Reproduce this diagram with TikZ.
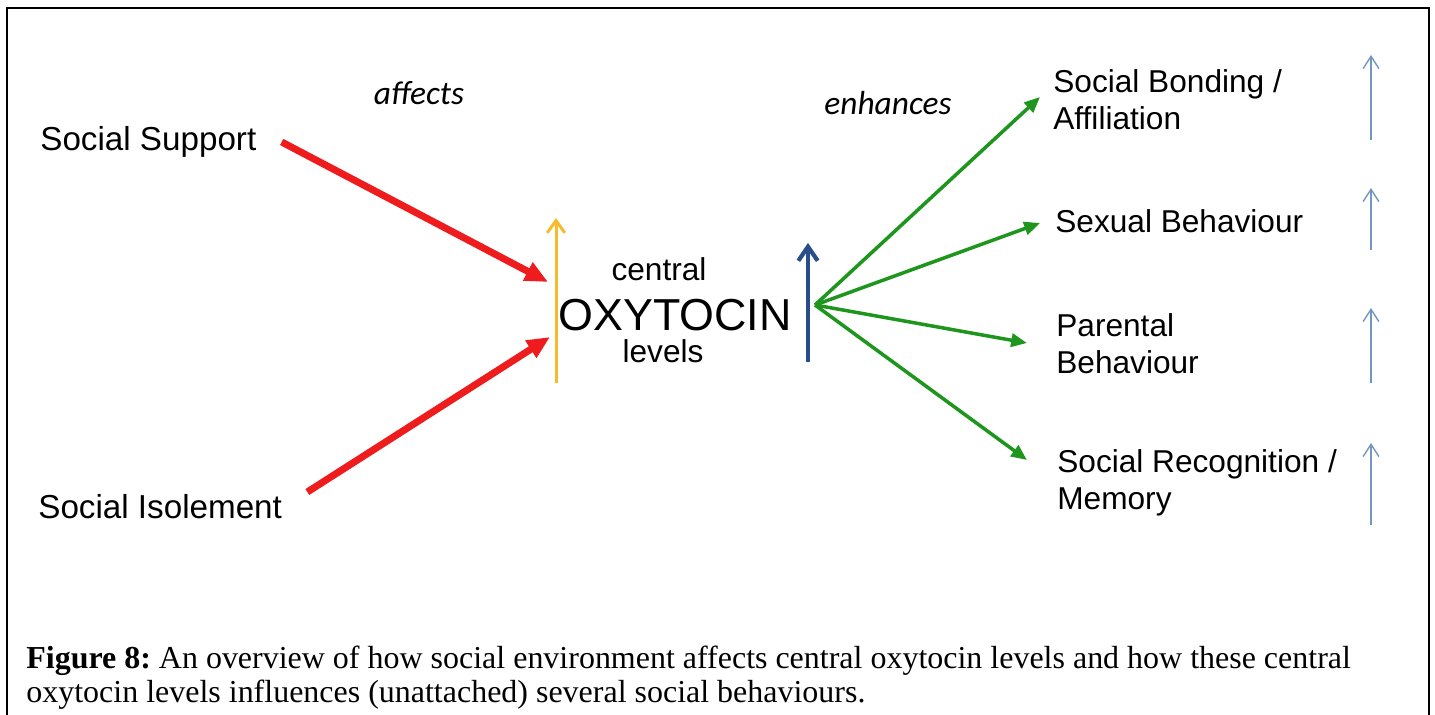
\documentclass[tikz,border=0pt]{standalone}
\usepackage{fontspec}
\setmainfont{Liberation Serif}
\newfontfamily\arialfont{Liberation Sans}
\newfontfamily\calibrifont{Carlito}
\usepackage{xcolor}
\usepackage{tikz}
\usetikzlibrary{arrows.meta, positioning, calc}
\definecolor{oxy_red}{HTML}{EE1C1C}
\definecolor{oxy_green}{HTML}{1E961E}
\definecolor{oxy_gold}{HTML}{F4BC2A}
\definecolor{oxy_navy}{HTML}{274E8A}
\definecolor{oxy_steel}{HTML}{7497C0}
\frenchspacing

\begin{document}
\begin{tikzpicture}[
        x=0.02cm, y=-0.02cm,
        behav/.style={font=\arialfont\fontsize{18}{21}\selectfont, inner sep=0pt, anchor=west, align=left},
        env/.style={behav, font=\arialfont\fontsize{18.9}{21}\selectfont},
        verb/.style={font=\calibrifont\itshape\fontsize{19}{22}\selectfont, inner sep=0pt},
        level/.style={font=\arialfont\fontsize{18}{20}\selectfont, inner sep=0pt},
        affect/.style={-{Triangle[length=13pt, width=11pt]}, line width=4pt, oxy_red},
        enhance/.style={-{Triangle[length=9pt, width=7.5pt]}, line width=2pt, oxy_green},
        rise/.style={-{Straight Barb[length=7pt, width=10pt]}, line width=1.7pt, oxy_gold},
        boost/.style={-{Straight Barb[length=8pt, width=11pt]}, line width=2.4pt, oxy_navy},
        more/.style={-{Straight Barb[length=7pt, width=9pt]}, line width=0.8pt, oxy_steel},
    ]
        \useasboundingbox (0,0) rectangle (1435,715);

        % Frame
        \draw[line width=1.1pt] (7,715) -- (7,8) -- (1429,8) -- (1429,715);

        % Environment
        \node[env] (sup) at (40,142) {Social Support};
        \node[env] (iso) at (38,507) {Social Isolement};
        \node[verb] (aff) at (419,93) {affects};

        % Oxytocin
        \node[level, font=\arialfont\fontsize{25.5}{28}\selectfont] (oxy) at (675,315) {OXYTOCIN};
        \node[level, above=0.36cm of oxy, xshift=-0.32cm] (cen) {central};
        \node[level, below=0.16cm of oxy, xshift=-0.24cm] (lev) {levels};
        \coordinate (ylo) at (556,383);
        \coordinate (yhi) at (556,218);
        \coordinate (blo) at (808,362);
        \coordinate (bhi) at (808,243);
        \coordinate (hub) at (815,305);
        \coordinate (supEnd) at (548,282);
        \coordinate (isoEnd) at (550,337);

        % Behaviours
        \node[verb] (enh) at (888,103) {enhances};
        \node[behav] (bond) at (1053,100) {Social Bonding /\\Affiliation};
        \node[behav] (sex) at (1055,221) {Sexual Behaviour};
        \node[behav] (par) at (1056,344) {Parental\\Behaviour};
        \node[behav] (rec) at (1057,483) {Social Recognition /\\Memory};

        % Connections
        \draw[rise] (ylo) -- (yhi);
        \draw[boost] (blo) -- (bhi);
        \draw[affect] ($(sup.east)+(25,0)$) -- (supEnd);
        \draw[affect] ($(iso.east)+(25,-15)$) -- (isoEnd);
        \draw[enhance] (hub) -- ($(bond.west)+(-13,-3)$);
        \draw[enhance] (hub) -- ($(sex.west)+(-15,2)$);
        \draw[enhance] (hub) -- ($(par.west)+(-29,-1)$);
        \draw[enhance] (hub) -- ($(rec.west)+(-30,-23)$);
        \foreach \lo/\hi in {140/55, 250/188, 383/308, 525/443}
            \draw[more] (1371,\lo) -- (1371,\hi);

        % Caption
        \node[anchor=north west, inner sep=0pt, align=left, font=\fontsize{18.2}{19}\selectfont] (cap) at (26,646)
            {\textbf{Figure 8:} An overview of how social environment affects central oxytocin levels and how these central\\oxytocin levels influences (unattached) several social behaviours.};
\end{tikzpicture}
\end{document}
